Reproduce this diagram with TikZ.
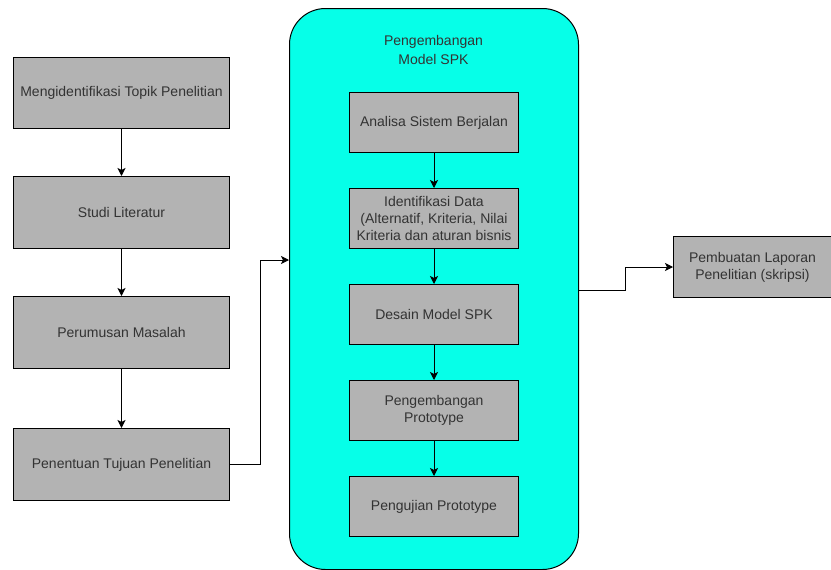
\documentclass[tikz,border=0pt]{standalone}
\usepackage{fontspec}
\setmainfont{Liberation Sans}
\usetikzlibrary{arrows.meta,positioning}
\definecolor{boxfill}{RGB}{179,179,179}
\definecolor{cyanfill}{RGB}{6,255,232}
\definecolor{txt}{RGB}{51,51,51}
\tikzset{
  stepbox/.style={draw=black, line width=1pt, fill=boxfill, text=txt, font=\fontsize{14}{17}\selectfont, align=center, inner sep=0pt, anchor=north west},
  conn/.style={draw=black, line width=1pt, -{Stealth[length=8pt,width=8pt,inset=2pt]}},
}
\begin{document}
\begin{tikzpicture}[x=1pt,y=-1pt]
\useasboundingbox (0,0) rectangle (831,570);
% container
\node[draw=black, line width=1pt, fill=cyanfill, rounded corners=36pt, minimum width=289pt, minimum height=561pt, anchor=north west, inner sep=0pt] (cont) at (289,8) {};
\node[text=txt, font=\fontsize{14}{19}\selectfont, align=center] (title) at (433.5,50) {Pengembangan\\Model SPK};
% left column
\node[stepbox, minimum width=216pt, minimum height=71pt] (l1) at (13,57) {Mengidentifikasi Topik Penelitian};
\node[stepbox, minimum width=216pt, minimum height=72pt] (l2) at (13,176) {Studi Literatur};
\node[stepbox, minimum width=216pt, minimum height=72pt] (l3) at (13,296) {Perumusan Masalah};
\node[stepbox, minimum width=216pt, minimum height=72pt] (l4) at (13,428) {Penentuan Tujuan Penelitian};
% inner column
\node[stepbox, minimum width=169pt, minimum height=60pt] (a) at (349,92) {Analisa Sistem Berjalan};
\node[stepbox, minimum width=169pt, minimum height=60pt] (b) at (349,188) {Identifikasi Data\\(Alternatif, Kriteria, Nilai\\Kriteria dan aturan bisnis};
\node[stepbox, minimum width=169pt, minimum height=60pt] (c) at (349,284) {Desain Model SPK};
\node[stepbox, minimum width=169pt, minimum height=60pt] (d) at (349,380) {Pengembangan\\Prototype};
\node[stepbox, minimum width=169pt, minimum height=60pt] (e) at (349,476) {Pengujian Prototype};
% right box
\node[stepbox, minimum width=158pt, minimum height=61pt] (r) at (673,236) {Pembuatan Laporan\\Penelitian (skripsi)};
% connectors
\draw[conn] (l1) -- (l2);
\draw[conn] (l2) -- (l3);
\draw[conn] (l3) -- (l4);
\draw[conn] (a) -- (b);
\draw[conn] (b) -- (c);
\draw[conn] (c) -- (d);
\draw[conn] (d) -- (e);
\coordinate (bendL) at (260,260);
\coordinate (inL) at (289,260);
\coordinate (outR) at (578,290);
\coordinate (bendR) at (625,290);
\coordinate (inR) at (673,267);
\draw[conn] (l4.east) -| (bendL) -- (inL);
\draw[conn] (outR) -- (bendR) |- (inR);
\end{tikzpicture}
\end{document}
